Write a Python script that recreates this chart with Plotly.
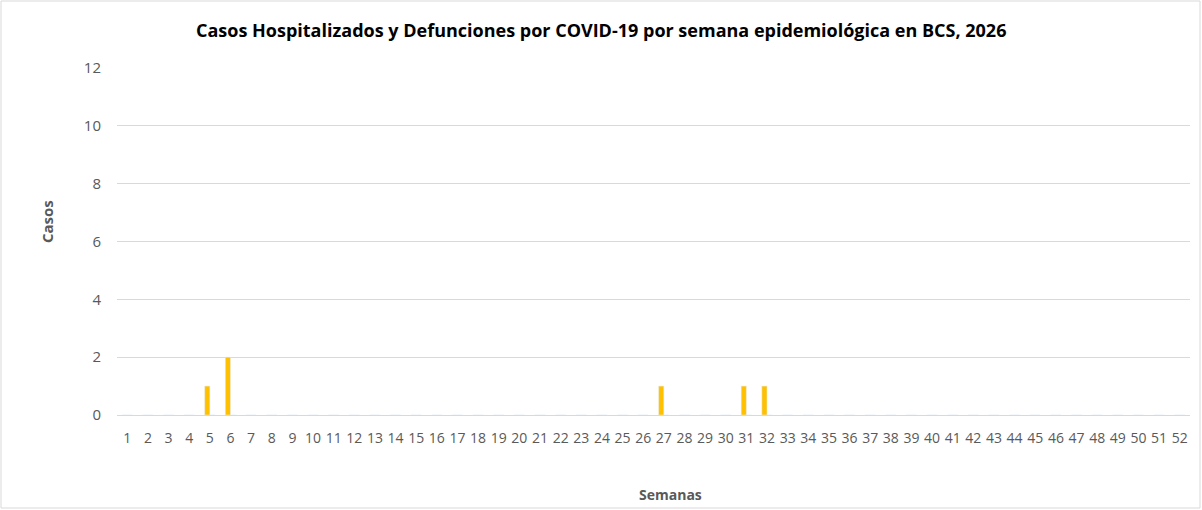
import plotly.graph_objects as go

semanas = [str(i) for i in range(1, 53)]
hospitalizados = [0, 0, 0, 0, 1, 2, 0, 0, 0, 0, 0, 0, 0, 0, 0, 0, 0, 0, 0, 0,
                  0, 0, 0, 0, 0, 0, 1, 0, 0, 0, 1, 1, 0, 0, 0, 0, 0, 0, 0, 0,
                  0, 0, 0, 0, 0, 0, 0, 0, 0, 0, 0, 0]
defunciones = [0] * 52
y_ticks = [0, 2, 4, 6, 8, 10, 12]

W, H = 1202, 510
L, R, T, B = 117, 12, 68, 95
pw, ph = W - L - R, H - T - B


def px_x(p):
    return (p - L) / pw


def px_y(p):
    return (H - B - p) / ph


font = "Open Sans"
grey = "#595959"

fig = go.Figure()
fig.add_trace(go.Bar(x=semanas, y=hospitalizados, name="Hospitalizados",
                     marker_color="#FFC000"))
fig.add_trace(go.Bar(x=semanas, y=defunciones, name="Defunciones",
                     marker_color="#A5A5A5"))

fig.update_layout(
    width=W, height=H,
    margin=dict(l=L, r=R, t=T, b=B),
    paper_bgcolor="white", plot_bgcolor="white",
    barmode="group", bargap=0.5, bargroupgap=0,
    showlegend=False,
    font=dict(family=font, color=grey, size=14),
)
fig.update_xaxes(type="category", showgrid=False, showline=False, ticks="",
                 tickfont=dict(size=14, color=grey), ticklabelstandoff=13)
fig.update_yaxes(range=[0, 12], tickvals=y_ticks, showgrid=True,
                 gridcolor="#D9D9D9", gridwidth=1, zeroline=True,
                 zerolinecolor="#D9D9D9", zerolinewidth=1, showline=False,
                 ticks="", tickfont=dict(size=15, color=grey), ticklabelstandoff=15)

labels = [
    ("<b>Casos Hospitalizados y Defunciones por COVID-19 por semana epidemiológica en BCS, 2026</b>",
     601, 30, 0, 18, "black"),
    ("<b>Semanas</b>", 670, 494, 0, 14, grey),
    ("<b>Casos</b>", 47, 222, -90, 15, grey),
]
for text, x, y, ang, size, col in labels:
    fig.add_annotation(text=text, xref="paper", yref="paper", x=px_x(x), y=px_y(y),
                       xanchor="center", yanchor="middle", showarrow=False,
                       textangle=ang, font=dict(size=size, color=col, family=font))

# light border round the whole chart
fig.add_shape(type="rect", xref="paper", yref="paper",
              x0=px_x(1), x1=px_x(1200), y0=px_y(508), y1=px_y(1),
              line=dict(color="#D9D9D9", width=1), fillcolor="rgba(0,0,0,0)")

fig.write_html("out.html", config={"displayModeBar": False},
               post_script="document.body.style.margin='0';")
